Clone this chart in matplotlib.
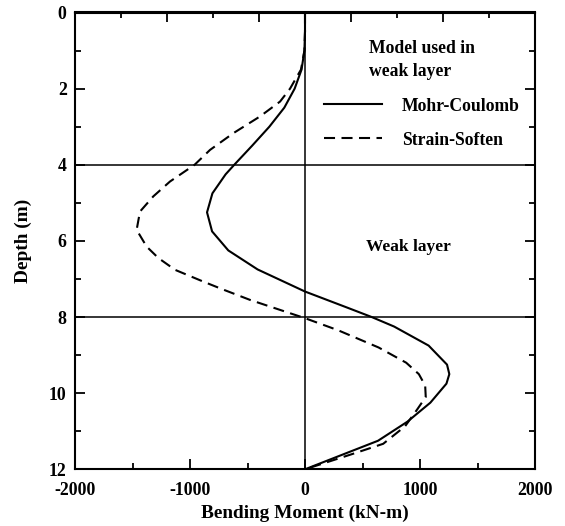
import numpy as np
import matplotlib
matplotlib.use("Agg")
import matplotlib.pyplot as plt

plt.rcParams['font.family'] = ['Liberation Serif', 'DejaVu Serif']
plt.rcParams['font.weight'] = 'bold'
plt.rcParams['axes.unicode_minus'] = False

# Data (depth in m, bending moment in kN-m)
depth_mc = [0.0, 0.5, 1.0, 1.5, 2.0, 2.5, 3.0, 3.5, 4.0, 4.25, 4.75, 5.25, 5.75,
            6.25, 6.75, 7.33, 7.75, 8.0, 8.25, 8.75, 9.25, 9.5, 9.75, 10.25,
            10.75, 11.25, 12.0]
moment_mc = [0, 0, -5, -30, -90, -180, -310, -460, -615, -690, -805, -852, -808,
             -667, -412, 0, 365, 580, 775, 1075, 1235, 1255, 1230, 1090,
             890, 635, 0]

depth_ss = [0.0, 0.5, 1.0, 1.5, 2.0, 2.34, 2.73, 3.17, 3.61, 4.0, 4.44, 4.83,
            5.23, 5.71, 6.15, 6.45, 6.76, 7.07, 7.28, 7.55, 7.9, 8.03, 8.35,
            8.8, 9.2, 9.5, 9.8, 10.1, 10.43, 10.87, 11.33, 11.6, 12.0]
moment_ss = [0, 0, -5, -35, -130, -217, -391, -623, -826, -960, -1174, -1319,
             -1435, -1464, -1377, -1275, -1130, -884, -710, -478, -130, 0, 290,
             640, 880, 990, 1045, 1050, 975, 870, 680, 410, 0]

layer_bounds = [4, 8]
series_labels = ['Mohr-Coulomb', 'Strain-Soften']
xticks_major = [-2000, -1000, 0, 1000, 2000]
yticks_major = [0, 2, 4, 6, 8, 10, 12]

fig = plt.figure(figsize=(5.65, 5.26), dpi=100)
ax = fig.add_axes([75/565, 1 - 469.3/526, 460/565, (469.3 - 12.5)/526])

ax.set_xlim(-2000, 2000)
ax.set_ylim(12, 0)

for d in layer_bounds:
    ax.axhline(d, color='black', lw=1.1, zorder=1)
ax.axvline(0, color='black', lw=1.1, zorder=1)

l1, = ax.plot(moment_mc, depth_mc, color='black', lw=1.5, label=series_labels[0])
l2, = ax.plot(moment_ss, depth_ss, color='black', lw=1.5, dashes=(5.3, 3.1),
              label=series_labels[1])

ax.set_xticks(xticks_major)
ax.set_xticks(np.arange(-2000, 2001, 500), minor=True)
ax.set_yticks(yticks_major)
ax.set_yticks(np.arange(0, 13, 1), minor=True)
ax.tick_params(which='both', direction='in', width=1.3, labelsize=12.8,
               right=True, top=False)
ax.tick_params(which='major', length=7)
ax.tick_params(axis='x', which='major', pad=9)
ax.tick_params(axis='y', which='major', pad=6)
ax.tick_params(which='minor', length=4)

secx = ax.secondary_xaxis('top')
secx.set_xticks(np.arange(-2000, 2001, 800))
secx.set_xticks(np.arange(-1600, 2000, 800), minor=True)
secx.tick_params(which='both', direction='in', width=1.3, labeltop=False)
secx.tick_params(which='major', length=7)
secx.tick_params(which='minor', length=4)
secx.spines['top'].set_linewidth(1.5)

for s in ax.spines.values():
    s.set_linewidth(1.5)

ax.set_xlabel('Bending Moment (kN-m)', fontsize=13.9, fontweight='bold', labelpad=4)
ax.set_ylabel('Depth (m)', fontsize=13.9, fontweight='bold', labelpad=12)

leg = ax.legend(handles=[l1, l2], title='Model used in\nweak layer',
                frameon=False, loc='upper left', bbox_to_anchor=(0.541, 0.94),
                borderpad=0, borderaxespad=0, handlelength=3.3,
                handletextpad=1.14, labelspacing=0.97,
                prop={'size': 12.7, 'weight': 'bold'},
                title_fontproperties={'size': 12.7, 'weight': 'bold'})
leg.get_title().set_linespacing(1.5)

ax.text(530, 6.15, 'Weak layer', fontsize=12.5, fontweight='bold',
        ha='left', va='center')

fig.savefig('out.png', dpi=100)
